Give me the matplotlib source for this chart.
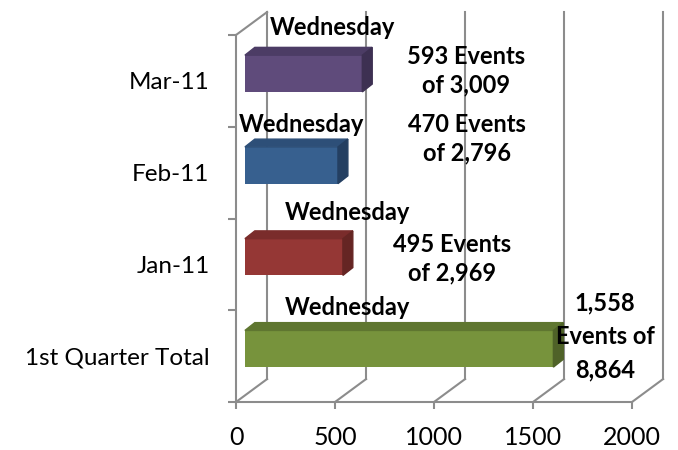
# coding: utf-8
"""三维风格的横向条形图"""

import matplotlib.pyplot as plt
from matplotlib.patches import Polygon

categories = ['1st Quarter Total', 'Jan-11', 'Feb-11', 'Mar-11']
events = [1558, 495, 470, 593]
totals = [8864, 2969, 2796, 3009]
day_labels = ['Wednesday', 'Wednesday', 'Wednesday', 'Wednesday']
x_ticks = [0, 500, 1000, 1500, 2000]

front_colors = ['#77933C', '#953735', '#37608F', '#5F4B7B']
top_colors = ['#5F7630', '#7A2C2B', '#2D4F78', '#4C3C65']
side_colors = ['#4F6228', '#652523', '#243F61', '#3D3052']


def draw_bar3d(info=None, path='out.png'):
    plt.rcParams['font.family'] = ['Lato', 'DejaVu Sans']

    fig = plt.figure(figsize=(6.78, 4.5), dpi=100)
    # 轴区域 = 前平面
    ax = fig.add_axes([236 / 678, 1 - 402 / 450, 396 / 678, 367 / 450])
    ax.set_xlim(0, 2000)
    ax.set_ylim(-0.5, 3.5)

    grid_c = '#8C8C8C'
    wall_dx, wall_dy = 157, 0.25     # 后墙偏移
    bar_dx, bar_dy = 45, 0.08        # 条形前面偏移
    depth_dx, depth_dy = 50, 0.085   # 条形厚度
    h = 0.40

    # 背墙竖网格线 + 地面斜线
    for v in x_ticks:
        ax.plot([v + wall_dx] * 2, [-0.5 + wall_dy, 3.5 + wall_dy], color=grid_c,
                lw=1.5, clip_on=False, zorder=1)
        ax.plot([v, v + wall_dx], [-0.5, -0.5 + wall_dy], color=grid_c,
                lw=1.5, clip_on=False, zorder=1)
    # 侧墙顶边
    ax.plot([0, wall_dx], [3.5, 3.5 + wall_dy], color=grid_c, lw=1.5,
            clip_on=False, zorder=1)

    for i, v in enumerate(events):
        x0, x1 = bar_dx, v + bar_dx
        y0, y1 = i - h / 2 + bar_dy, i + h / 2 + bar_dy
        ax.barh(i + bar_dy, v, height=h, left=bar_dx, color=front_colors[i],
                zorder=3)
        top = Polygon([(x0, y1), (x1, y1), (x1 + depth_dx, y1 + depth_dy),
                       (x0 + depth_dx, y1 + depth_dy)], closed=True,
                      color=top_colors[i], zorder=3, clip_on=False)
        side = Polygon([(x1, y0), (x1, y1), (x1 + depth_dx, y1 + depth_dy),
                        (x1 + depth_dx, y0 + depth_dy)], closed=True,
                       color=side_colors[i], zorder=3, clip_on=False)
        ax.add_patch(top)
        ax.add_patch(side)

    # 数据标签（手动位置）
    day_pos = [(561, 0.525), (561, 1.57), (333, 2.52), (485, 3.58)]
    ev_pos = [(1864, 0.21), (1091, 1.06), (1167, 2.37), (1162, 3.11)]
    for i in range(len(events)):
        ax.text(day_pos[i][0], day_pos[i][1], day_labels[i], ha='center',
                va='center', fontsize=17, fontweight='bold', zorder=5,
                clip_on=False)
        if i == 0:
            s = f'{events[i]:,}\nEvents of\n{totals[i]:,}'
            ls = 1.55
        else:
            s = f'{events[i]:,} Events\nof {totals[i]:,}'
            ls = 1.3
        ax.text(ev_pos[i][0], ev_pos[i][1], s, ha='center', va='center',
                fontsize=17, fontweight='bold', linespacing=ls, zorder=5,
                clip_on=False)

    # 坐标轴
    for k in ['top', 'right']:
        ax.spines[k].set_visible(False)
    for k in ['left', 'bottom']:
        ax.spines[k].set_color(grid_c)
        ax.spines[k].set_linewidth(1.5)

    ax.set_xticks(x_ticks)
    ax.tick_params(axis='x', length=5, width=1.5, color=grid_c, labelsize=18,
                   pad=12)
    ax.set_yticks([-0.5, 0.5, 1.5, 2.5, 3.5])
    ax.set_yticklabels([])
    ax.tick_params(axis='y', which='major', length=6, width=1.5, color=grid_c)
    ax.set_yticks(range(len(categories)), minor=True)
    ax.set_yticklabels(categories, minor=True)
    ax.tick_params(axis='y', which='minor', length=0, labelsize=17.5, pad=19)

    fig.savefig(path, dpi=100)
    plt.close()


if __name__ == '__main__':
    draw_bar3d()
